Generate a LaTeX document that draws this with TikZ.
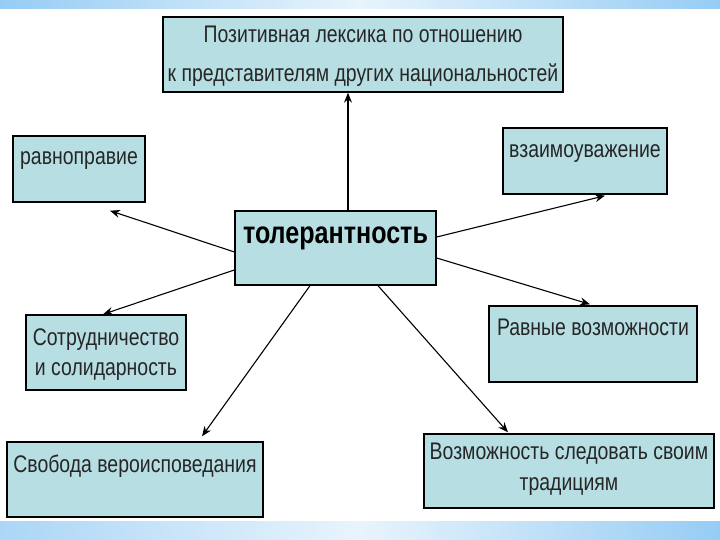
\documentclass[tikz,border=0pt]{standalone}
\usepackage{fontspec}
\setmainfont{Liberation Sans}[FakeStretch=0.81]
\usetikzlibrary{arrows.meta,calc}
\definecolor{boxfill}{RGB}{183,222,227}
\definecolor{bandblue}{RGB}{150,204,244}
\definecolor{bandlight}{RGB}{232,244,252}
\begin{document}
\begin{tikzpicture}[x=1pt,y=-1pt,
  box/.style={draw=black,line width=1.4pt,fill=boxfill,inner sep=0pt},
  txt/.style={font=\fontsize{24pt}{39pt}\selectfont,inner sep=0pt,align=center,text=black!85},
  arr/.style={draw=black,line width=1.1pt,-{Stealth[length=10pt,width=8pt]}}]
\useasboundingbox (0,0) rectangle (720,540);
\fill[white] (0,0) rectangle (720,540);
% bands
\shade[left color=bandblue,right color=bandblue,middle color=bandlight] (0,0) rectangle (720,9);
\shade[left color=bandblue!80,right color=bandblue,middle color=bandlight] (0,521) rectangle (720,540);
% boxes
\node[box,minimum width=400pt,minimum height=75pt] (top) at (363,54.5) {};
\node[box,minimum width=132pt,minimum height=66pt] (ravno) at (79,169) {};
\node[box,minimum width=164pt,minimum height=66pt] (vzaim) at (585,161) {};
\node[box,minimum width=201pt,minimum height=74pt] (tol) at (335.5,248) {};
\node[box,minimum width=160pt,minimum height=75pt] (sotr) at (106,352.5) {};
\node[box,minimum width=208pt,minimum height=76pt] (ravnye) at (593,344) {};
\node[box,minimum width=256pt,minimum height=75pt] (svob) at (135,479.5) {};
\node[box,minimum width=290pt,minimum height=74pt] (vozm) at (569,471) {};
% texts
\node[txt] (ttop) at (363,56) {Позитивная лексика по отношению\\к представителям других национальностей};
\node[txt] (travno) at ([yshift=8pt]ravno.center) {равноправие};
\node[txt] (tvzaim) at ([yshift=7pt]vzaim.center) {взаимоуважение};
\node[txt,font=\fontsize{31pt}{33pt}\selectfont\bfseries,text=black] (ttol) at ([yshift=10pt]tol.center) {толерантность};
\node[txt,font=\fontsize{24pt}{30pt}\selectfont] (tsotr) at ([yshift=-2pt]sotr.center) {Сотрудничество\\и солидарность};
\node[txt] (travnye) at ([yshift=17pt]ravnye.center) {Равные возможности};
\node[txt] (tsvob) at ([yshift=13pt]svob.center) {Свобода вероисповедания};
\node[txt,font=\fontsize{24pt}{31pt}\selectfont] (tvozm) at ([yshift=2pt]vozm.center) {Возможность следовать своим\\традициям};
% arrows
\draw[arr] ([xshift=12.5pt]tol.north) -- ([xshift=-15pt]top.south);
\draw[arr] ([yshift=-4pt]tol.west) -- ([shift={(31,8)}]ravno.south);
\draw[arr] ([yshift=11pt]tol.east) -- ([shift={(20,1)}]vzaim.south);
\draw[arr] ([yshift=-22pt]tol.west) -- ([shift={(-3,0)}]sotr.north);
\draw[arr] ([yshift=-10pt]tol.east) -- ([shift={(-3,-1)}]ravnye.north);
\draw[arr] ([xshift=-25.5pt]tol.south) -- ([shift={(67,-5)}]svob.north);
\draw[arr] ([xshift=42.5pt]tol.south) -- ([shift={(-61,-1)}]vozm.north);
\end{tikzpicture}
\end{document}
